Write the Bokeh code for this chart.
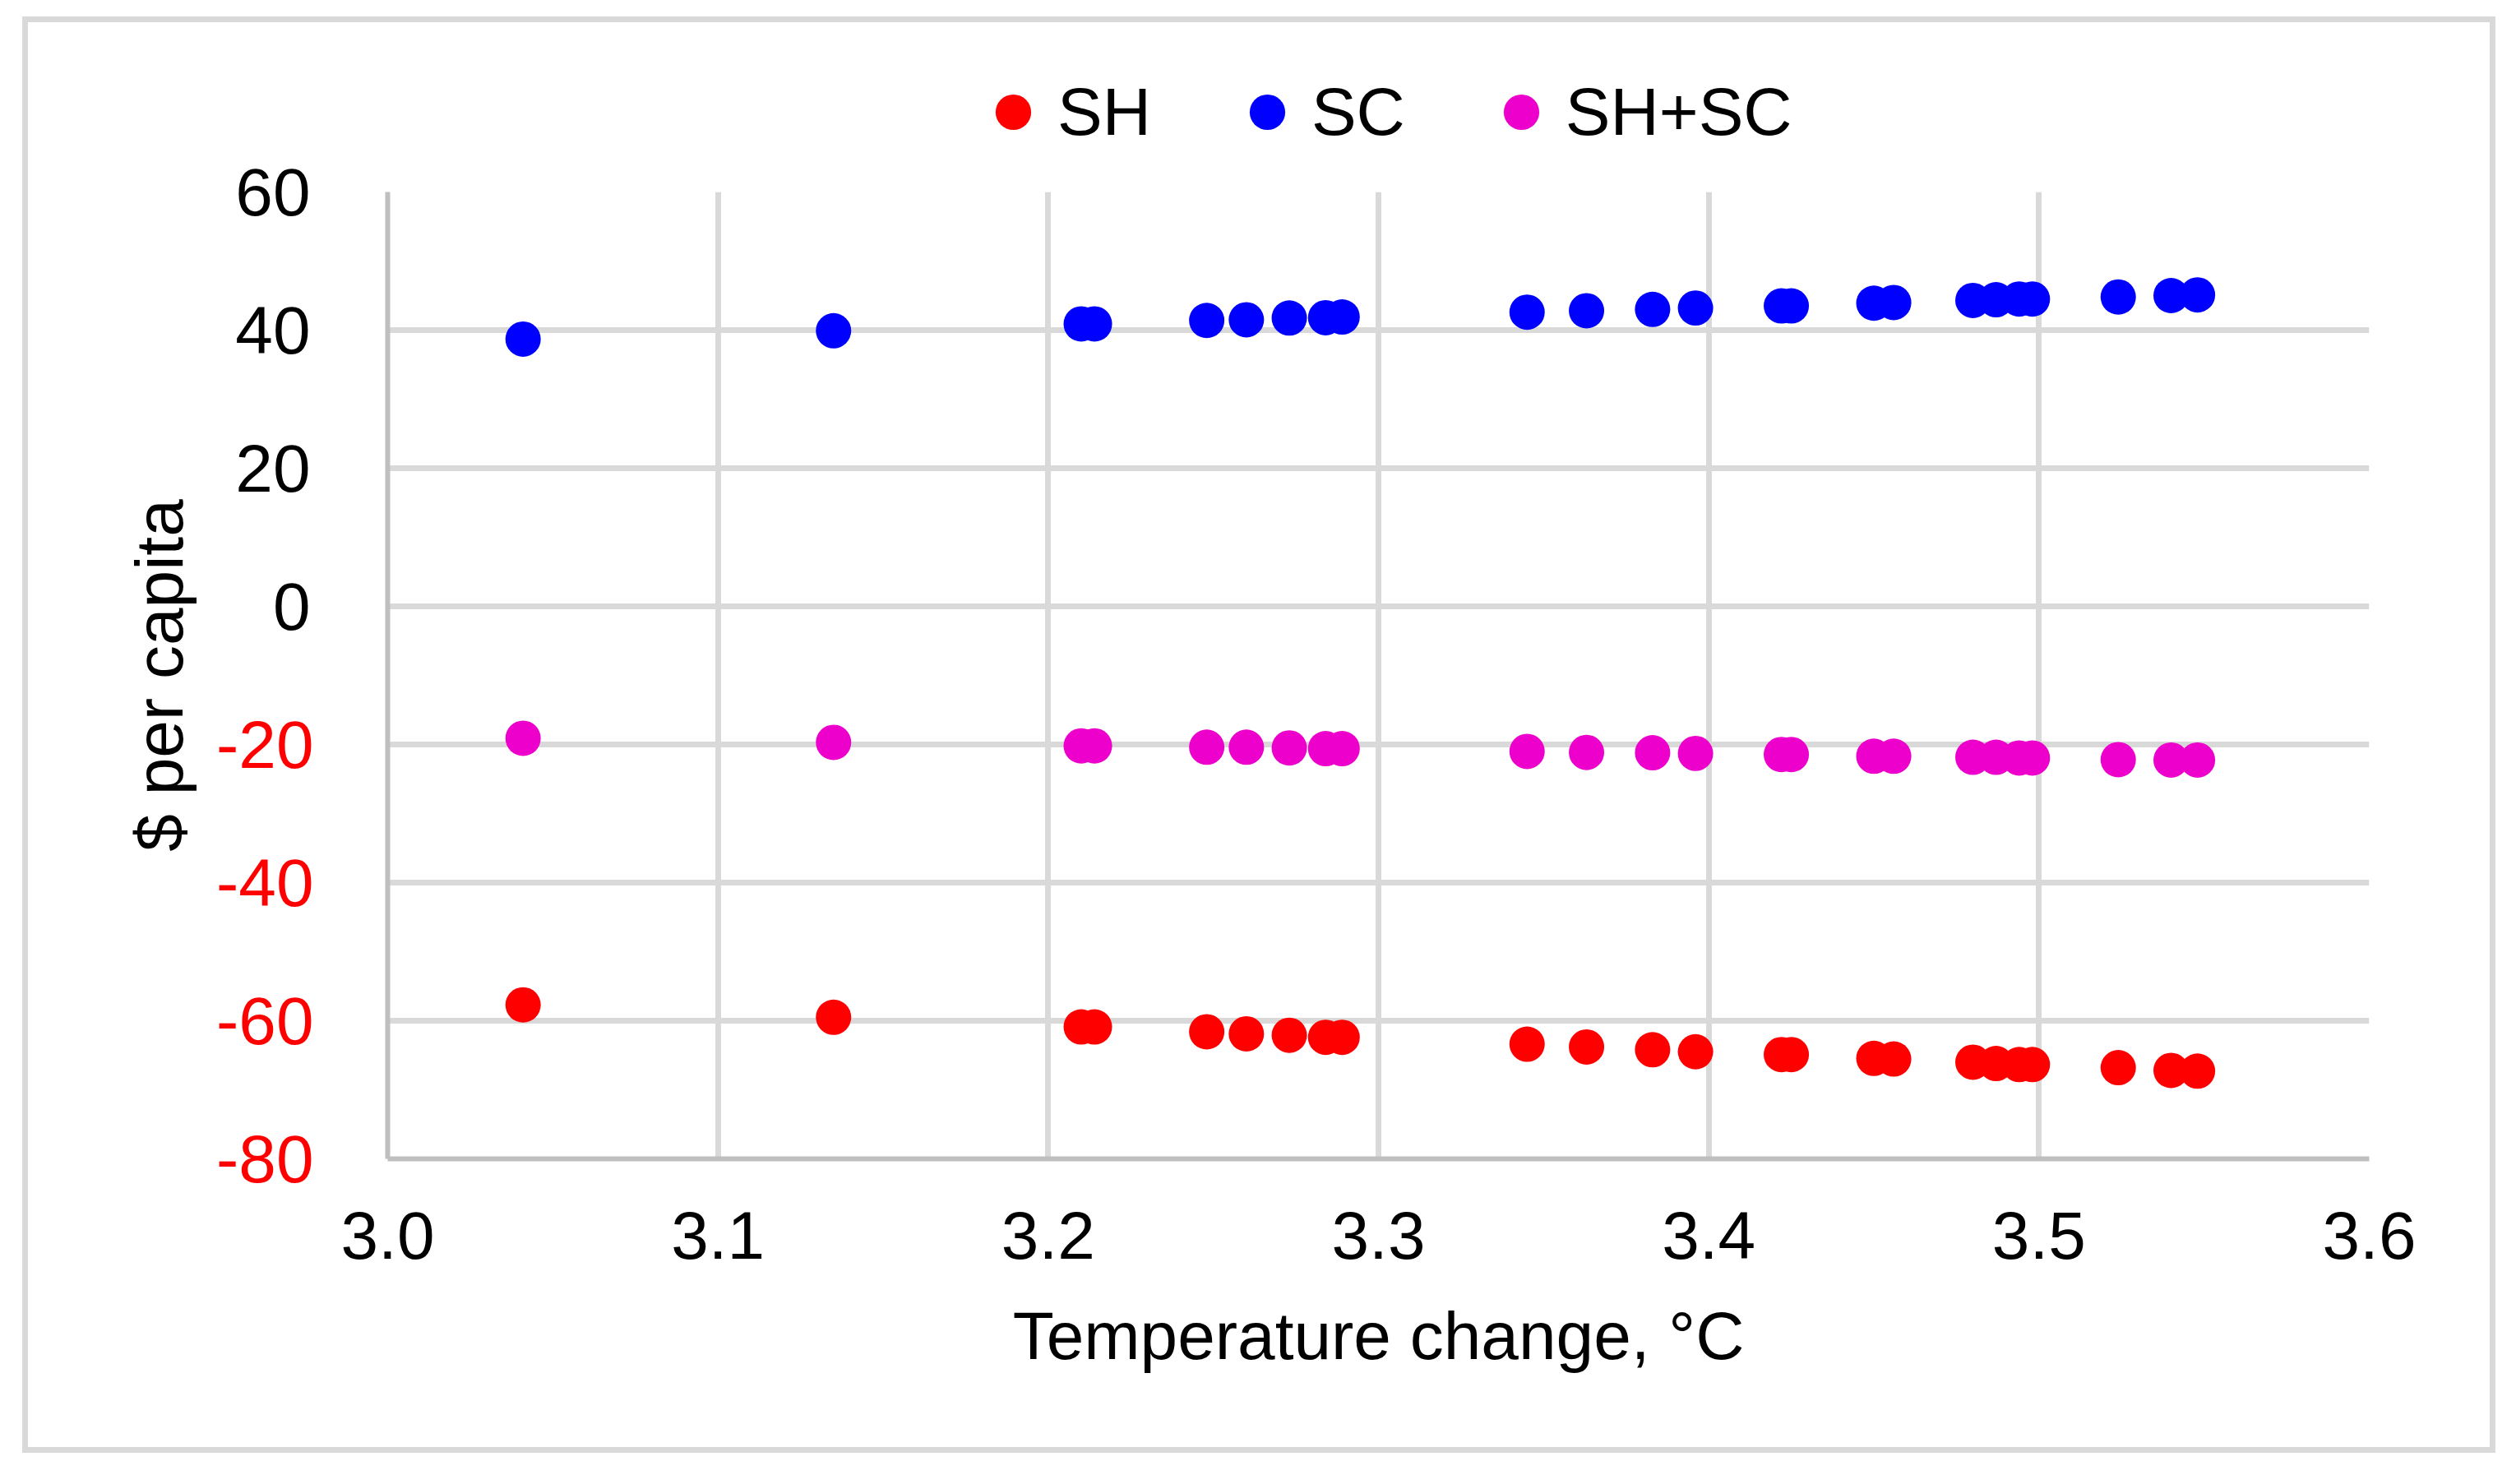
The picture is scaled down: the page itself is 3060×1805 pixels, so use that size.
from bokeh.plotting import figure
from bokeh.layouts import column
from bokeh.models import (Range1d, FixedTicker, LinearAxis, Legend, LegendItem,
                          PrintfTickFormatter)
from bokeh.embed import file_html
from bokeh.resources import INLINE

# ---- data ----
temp_change = [3.041, 3.135, 3.210, 3.214, 3.248, 3.260, 3.273, 3.284, 3.289,
               3.345, 3.363, 3.383, 3.396, 3.422, 3.425, 3.450, 3.456,
               3.480, 3.487, 3.494, 3.498, 3.524, 3.540, 3.548]
sh = [-57.7, -59.5, -60.9, -60.9, -61.6, -61.9, -62.1, -62.4, -62.4,
      -63.4, -63.8, -64.2, -64.5, -64.9, -64.9, -65.45, -65.55,
      -66.0, -66.2, -66.35, -66.35, -66.8, -67.2, -67.3]
sc = [38.7, 39.9, 40.9, 40.9, 41.4, 41.5, 41.75, 41.8, 41.9,
      42.6, 42.8, 43.0, 43.2, 43.5, 43.5, 43.9, 44.0,
      44.3, 44.4, 44.5, 44.5, 44.8, 45.0, 45.1]
sh_sc = [-19.1, -19.7, -20.2, -20.2, -20.4, -20.4, -20.5, -20.6, -20.6,
         -21.0, -21.15, -21.2, -21.3, -21.45, -21.45, -21.7, -21.7,
         -21.85, -21.85, -21.95, -21.95, -22.2, -22.25, -22.25]
series_names = ["SH", "SC", "SH+SC"]
series_colors = ["#FF0000", "#0000FF", "#EE00CC"]
x_ticks = [3.0, 3.1, 3.2, 3.3, 3.4, 3.5, 3.6]
y_ticks_pos = [0, 20, 40, 60]
y_ticks_neg = [-80, -60, -40, -20]

FONT = "Liberation Sans"
FS = "82px"
W = 2994
LEG_H = 157
MAIN_H = 1576

# ---------------- main chart ----------------
p = figure(width=W, height=MAIN_H, output_backend="svg", toolbar_location=None,
           x_range=Range1d(3.0, 3.6), y_range=Range1d(-80, 60),
           min_border_left=437, min_border_right=147,
           min_border_top=49, min_border_bottom=351)
p.background_fill_color = "white"
p.border_fill_color = "white"
p.outline_line_color = None

# grids
p.xgrid.ticker = FixedTicker(ticks=x_ticks)
p.ygrid.ticker = FixedTicker(ticks=y_ticks_neg + y_ticks_pos)
for g in (p.xgrid, p.ygrid):
    g.grid_line_color = "#D9D9D9"
    g.grid_line_width = 7

def style_axis(ax, color="#000000"):
    ax.major_tick_line_color = None
    ax.minor_tick_line_color = None
    ax.major_tick_out = 0
    ax.major_tick_in = 0
    ax.major_label_text_font = FONT
    ax.major_label_text_font_size = FS
    ax.major_label_text_color = color
    ax.axis_label_text_font = FONT
    ax.axis_label_text_font_size = FS
    ax.axis_label_text_font_style = "normal"
    ax.axis_label_text_color = "#000000"

# x axis
xa = p.xaxis[0]
xa.ticker = FixedTicker(ticks=x_ticks)
xa.formatter = PrintfTickFormatter(format="%.1f")
xa.axis_label = "Temperature change, °C"
style_axis(xa)
xa.axis_line_color = "#BFBFBF"
xa.axis_line_width = 6
xa.major_label_standoff = 64
xa.axis_label_standoff = 45

# inner y axis: negative labels in red, carries the axis line
ya_neg = p.yaxis[0]
ya_neg.ticker = FixedTicker(ticks=y_ticks_neg)
ya_neg.formatter = PrintfTickFormatter(format="%d")
style_axis(ya_neg, "#FF0000")
ya_neg.axis_line_color = "#BFBFBF"
ya_neg.axis_line_width = 6
ya_neg.major_label_standoff = 90

# outer y axis: non-negative labels in black (pulled back in line), plus the title
ya_pos = LinearAxis(ticker=FixedTicker(ticks=y_ticks_pos), axis_label="$ per capita",
                    formatter=PrintfTickFormatter(format="%d"))
style_axis(ya_pos)
ya_pos.axis_line_color = None
ya_pos.major_label_standoff = -118
ya_pos.axis_label_standoff = 44
p.add_layout(ya_pos, "left")

# scatter series
series_values = [sh, sc, sh_sc]
for name, vals, col in zip(series_names, series_values, series_colors):
    p.scatter(temp_change, vals, size=43, fill_color=col, line_color=None, marker="circle")

# ---------------- legend strip above the chart ----------------
# (its frame is aligned with the chart's frame by the column layout; the
#  series drawn here fall outside its 0..1 ranges, so only the legend shows)
lf = figure(width=W, height=LEG_H, output_backend="svg", toolbar_location=None,
            x_axis_type=None, y_axis_type=None,
            x_range=Range1d(0, 1), y_range=Range1d(0, 1),
            min_border_left=437, min_border_right=147, min_border_top=0, min_border_bottom=0)
lf.background_fill_color = "white"
lf.border_fill_color = "white"
lf.outline_line_color = None
leg_renderers = [lf.scatter(temp_change, vals, size=43, fill_color=c, line_color=None, marker="circle")
                 for vals, c in zip(series_values, series_colors)]
legend = Legend(items=[LegendItem(label=n, renderers=[r]) for n, r in zip(series_names, leg_renderers)],
                orientation="horizontal", location=(707, -6))
legend.glyph_width = 108
legend.glyph_height = 108
legend.label_standoff = 0
legend.spacing = 87
legend.padding = 0
legend.margin = 0
legend.border_line_color = None
legend.background_fill_color = None
legend.label_text_font = FONT
legend.label_text_font_size = FS
legend.label_text_color = "#000000"
lf.add_layout(legend, "center")

layout = column(lf, p, spacing=0)
layout.margin = (27, 0, 0, 34)
layout.styles = {"outline": "7px solid #D9D9D9"}

open("out.html", "w").write(file_html(layout, INLINE))
